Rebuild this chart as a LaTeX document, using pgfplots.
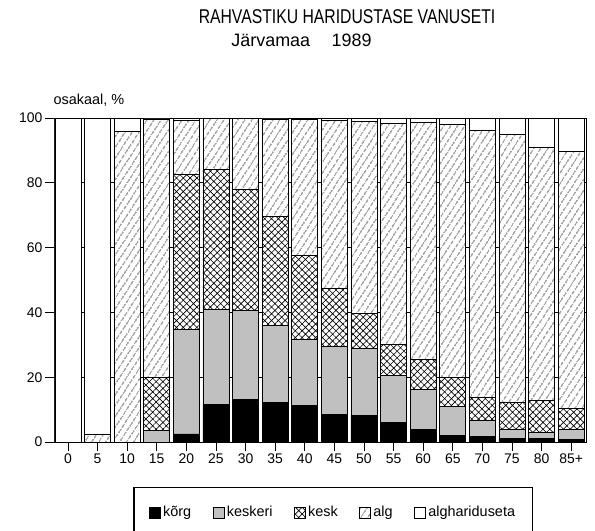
\documentclass[border=0pt]{standalone}
\usepackage{pgfplots}
\pgfplotsset{compat=1.18}
\usepackage{pgfplotstable}
\usepackage{fontspec}
\setmainfont{Liberation Sans}
\usetikzlibrary{patterns.meta}
\definecolor{keskgray}{RGB}{192,192,192}

\pgfplotstableread{
x korg keskeri kesk alg algh
0  0    0    0    0    100
1  0    0    0    2.5  97.5
2  0    0    0    95.8 4.2
3  0    3.6  16.4 79.7 0.3
4  2.5  32.1 48.1 16.7 0.6
5  11.5 29.5 43.0 15.8 0.2
6  13.0 27.7 37.3 21.8 0.2
7  12.2 23.7 33.8 30.0 0.3
8  11.3 20.4 26.0 41.8 0.5
9  8.6  20.8 18.0 51.8 0.8
10 8.2  20.6 10.9 59.1 1.2
11 6.1  14.4 9.7  68.0 1.8
12 4.0  12.3 9.2  73.1 1.4
13 1.9  9.2  8.9  78.0 2.0
14 1.6  5.0  7.2  82.5 3.7
15 1.1  2.7  8.4  82.8 5.0
16 1.1  1.8  10.0 78.1 9.0
17 0.9  2.9  6.6  79.2 10.4
}\datatable

\begin{document}
\begin{tikzpicture}
\path[use as bounding box] (0,0) rectangle (595bp,531bp);
\node[font=\fontsize{20}{24}\selectfont, anchor=base] at (347bp,507bp) {\scalebox{0.79}[1]{RAHVASTIKU HARIDUSTASE VANUSETI}};
\node[font=\fontsize{18}{22}\selectfont, anchor=base] at (301.5bp,484bp) {Järvamaa\hspace{1.2em}1989};
\node[font=\fontsize{14.5}{17}\selectfont, anchor=base] at (89bp,426bp) {osakaal, \%};
\begin{axis}[
  at={(54bp,89bp)}, anchor=south west,
  scale only axis, width=532bp, height=324bp,
  ybar stacked, bar width=26bp,
  xmin=-0.47, xmax=17.5, ymin=0, ymax=100,
  xtick={0,...,17},
  xticklabels={0,5,10,15,20,25,30,35,40,45,50,55,60,65,70,75,80,85+},
  ytick={0,20,40,60,80,100},
  xtick pos=bottom, ytick pos=left,
  tick align=outside, major tick length=9bp,
  tick style={black, line width=0.6pt},
  xticklabel style={yshift=1bp},
  yticklabel style={xshift=1bp},
  ymajorgrids, grid style={black, line width=0.6pt},
  axis line style={black, line width=0.8pt},
  ticklabel style={font=\fontsize{14}{16}\selectfont},
  /pgf/number format/assume math mode=true,
  legend columns=5,
  legend style={at={(0.525,-0.139)}, anchor=north, draw=black, line width=1.4pt,
    font=\fontsize{14.5}{17}\selectfont, column sep=0bp, inner xsep=15bp, inner ysep=16bp,
    nodes={inner xsep=2.5bp, text depth=14bp},
    /tikz/every even column/.append style={column sep=19bp}},
  legend image code/.code={\draw[#1, line width=0.6pt] (0bp,-0.5bp) rectangle (11bp,10.5bp);},
  every axis plot/.append style={draw=black, line width=0.8pt},
]
\addplot[fill=black] table[x=x,y=korg] {\datatable};
\addplot[fill=keskgray] table[x=x,y=keskeri] {\datatable};
\addplot[fill=white, postaction={pattern={Hatch[angle=45,distance=4.8bp,line width=0.65pt]}}] table[x=x,y=kesk] {\datatable};
\addplot[fill=white, postaction={pattern={Lines[angle=57,distance=6bp,line width=0.6pt]}}] table[x=x,y=alg] {\datatable};
\addplot[fill=white] table[x=x,y=algh] {\datatable};
\legend{kõrg,keskeri,kesk,alg,alghariduseta}
\end{axis}
\end{tikzpicture}
\end{document}
